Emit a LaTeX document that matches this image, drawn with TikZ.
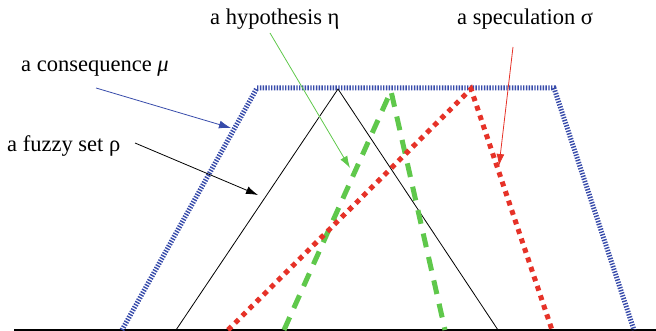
\documentclass[tikz,border=0pt]{standalone}
\usepackage{fontspec}
\setmainfont{Liberation Serif}
\usepackage{tikz}
\usetikzlibrary{arrows.meta,positioning}

\definecolor{conblue}{RGB}{55,75,170}
\definecolor{hypgreen}{RGB}{95,200,75}
\definecolor{specred}{RGB}{230,50,40}

\begin{document}
\begin{tikzpicture}[
	x=1pt, y=-1pt,
	>={Latex[length=12pt,width=8pt]},
	label/.style={anchor=base west, inner sep=0pt, font=\fontsize{22.5}{27}\selectfont},
	pointer/.style={->, line width=0.8pt},
	consequence/.style={conblue, line width=5pt, dash pattern=on 1.4pt off 1.4pt},
	fuzzy/.style={black, line width=0.8pt},
	hypothesis/.style={hypgreen, line width=5pt, dash pattern=on 14pt off 10pt},
	speculation/.style={specred, line width=5pt, dash pattern=on 5pt off 5pt}
]
\useasboundingbox (0,0) rectangle (656,331);

% axis
\coordinate (axl) at (14,330);
\coordinate (axr) at (656,330);
\draw[line width=2pt] (axl) -- (axr);

% membership functions
\coordinate (mu1) at (122,330);
\coordinate (mu2) at (257,88);
\coordinate (mu3) at (554,88);
\coordinate (mu4) at (634,330);
\draw[consequence] (mu1) -- (mu2) -- (mu3) -- (mu4);

\coordinate (rho1) at (176,330);
\coordinate (rho2) at (338,89);
\coordinate (rho3) at (498,330);
\draw[fuzzy] (rho1) -- (rho2) -- (rho3);

\coordinate (eta1) at (284,330);
\coordinate (eta2) at (391,91);
\coordinate (eta3) at (445,330);
\draw[hypothesis] (eta1) -- (eta2) -- (eta3);

\coordinate (sig1) at (228,330);
\coordinate (sig2) at (471,89);
\coordinate (sig3) at (552,330);
\draw[speculation] (sig1) -- (sig2) -- (sig3);

% labels
\node[label] (lmu) at (21,72) {a consequence \textit{μ}};
\node[label] (lrho) at (7,152) {a fuzzy set ρ};
\node[label] (leta) at (210,25) {a hypothesis η};
\node[label] (lsig) at (457,25) {a speculation σ};

% pointers
\coordinate (pmu) at (96,88);
\coordinate (tmu) at (231,128);
\coordinate (prho) at (135,143);
\coordinate (trho) at (258,195);
\coordinate (peta) at (270,33);
\coordinate (teta) at (350,168);
\coordinate (psig) at (513,47);
\coordinate (tsig) at (499,166);

\draw[pointer, conblue] (pmu) -- (tmu);
\draw[pointer, black] (prho) -- (trho);
\draw[pointer, hypgreen] (peta) -- (teta);
\draw[pointer, specred] (psig) -- (tsig);

\end{tikzpicture}
\end{document}
